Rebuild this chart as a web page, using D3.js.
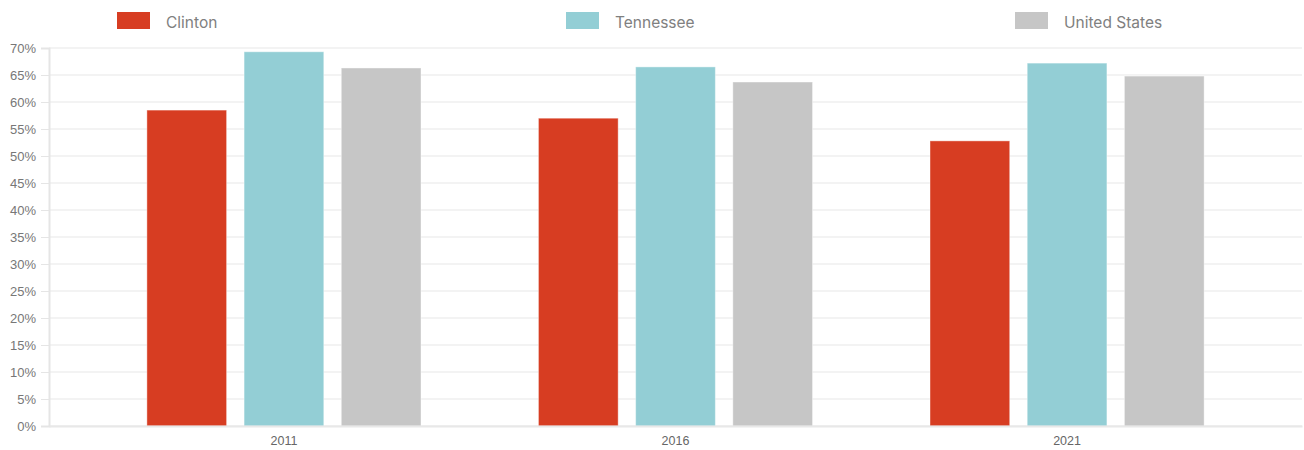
<!DOCTYPE html>
<html>
<head>
<meta charset="utf-8">
<script src="https://cdn.jsdelivr.net/npm/d3@7"></script>
<style>
  html, body { margin: 0; padding: 0; background: #fff; }
  svg { display: block; font-family: Inter, "Liberation Sans", Arial, sans-serif; }
</style>
</head>
<body>
<svg id="chart" width="1304" height="450"></svg>
<script>
// Years shown along the bottom axis
const years = ["2011", "2016", "2021"];
// Series names and their per-year percentages
const seriesNames = ["Clinton", "Tennessee", "United States"];
const clintonValues = [58.5, 57.0, 52.8];
const tennesseeValues = [69.3, 66.5, 67.2];
const usValues = [66.3, 63.7, 64.8];
const seriesColors = ["#d73d22", "#93ced5", "#c6c6c6"];
// Y tick values (percent)
const yTicks = [0, 5, 10, 15, 20, 25, 30, 35, 40, 45, 50, 55, 60, 65, 70];

const seriesValues = [clintonValues, tennesseeValues, usValues];
const rows = years.map((yr, i) => ({
  year: yr,
  values: seriesNames.map((name, s) => ({ name, value: seriesValues[s][i], color: seriesColors[s] }))
}));

const svg = d3.select("#chart");
const margin = { top: 48, right: 2, bottom: 24, left: 49 };
const W = 1304, H = 450;
const innerW = W - margin.left - margin.right;
const innerH = H - margin.top - margin.bottom;

const g = svg.append("g").attr("transform", `translate(${margin.left},${margin.top})`);

const x0 = d3.scaleBand().domain(years).range([0, innerW]).paddingInner(0.3).paddingOuter(0.25);
const x1 = d3.scaleBand().domain(seriesNames).range([0, x0.bandwidth()]).paddingInner(0.18);
const y = d3.scaleLinear().domain([0, 70]).range([innerH, 0]);

// Horizontal grid lines
g.append("g")
  .selectAll("line")
  .data(yTicks)
  .join("line")
  .attr("x1", 0)
  .attr("x2", innerW)
  .attr("y1", d => y(d))
  .attr("y2", d => y(d))
  .attr("stroke", "#f3f3f3")
  .attr("stroke-width", 2);

// Y axis
const yAxis = g.append("g")
  .call(d3.axisLeft(y).tickValues(yTicks).tickFormat(d => d + "%").tickSize(8).tickPadding(5));
yAxis.select(".domain").attr("stroke", "#e5e5e5").attr("stroke-width", 2);
yAxis.selectAll(".tick line").attr("stroke", "#e5e5e5").attr("stroke-width", 1);
yAxis.selectAll(".tick text").attr("fill", "#777").attr("font-size", 13);

// Bars
const groups = g.append("g")
  .selectAll("g")
  .data(rows)
  .join("g")
  .attr("transform", d => `translate(${x0(d.year)},0)`);

groups.selectAll("rect")
  .data(d => d.values)
  .join("rect")
  .attr("x", d => x1(d.name))
  .attr("width", x1.bandwidth())
  .attr("y", d => y(d.value))
  .attr("height", d => innerH - y(d.value))
  .attr("fill", d => d.color)
  .attr("stroke", "#fff")
  .attr("stroke-opacity", 0.4)
  .attr("stroke-width", 1);

// X axis
const xAxis = g.append("g")
  .attr("transform", `translate(0,${innerH})`)
  .call(d3.axisBottom(x0).tickSize(0).tickPadding(10));
xAxis.select(".domain").attr("stroke", "#e8e8e8").attr("stroke-width", 2);
xAxis.selectAll(".tick text").attr("fill", "#666").attr("font-size", 12.5);

// Legend
const legendX = d3.scalePoint().domain(seriesNames).range([117, 1015]);
const legend = svg.append("g")
  .selectAll("g")
  .data(seriesNames)
  .join("g")
  .attr("transform", d => `translate(${legendX(d)},12)`);
legend.append("rect")
  .attr("width", 33)
  .attr("height", 17)
  .attr("fill", (d, i) => seriesColors[i]);
legend.append("text")
  .attr("x", 49)
  .attr("y", 16)
  .attr("fill", "#808080")
  .attr("font-size", 15.5)
  .text(d => d);
</script>
</body>
</html>
